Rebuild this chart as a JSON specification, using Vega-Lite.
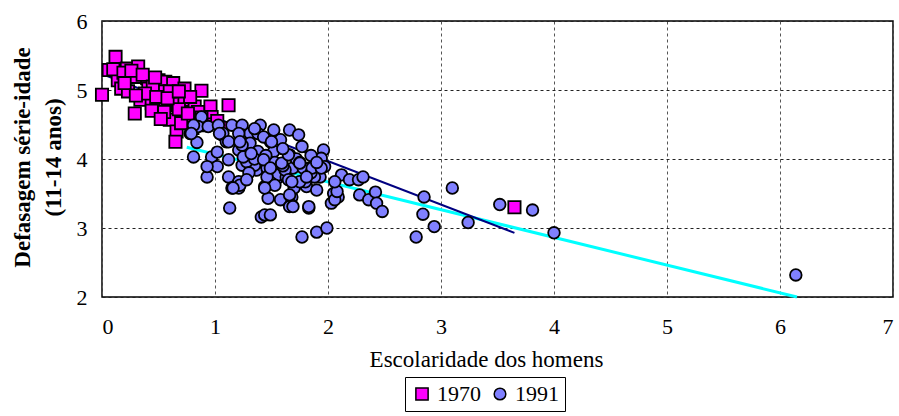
{
  "$schema": "https://vega.github.io/schema/vega-lite/v6.json",
  "width": 791,
  "height": 276,
  "autosize": {"type": "none"},
  "padding": {"left": 102, "top": 21, "right": 6, "bottom": 119},
  "background": "white",
  "config": {
    "font": "Liberation Serif",
    "view": {"stroke": "black", "strokeWidth": 1.5}
  },
  "datasets": {
    "pts": [
      {"ano": "1970", "esc": 0.00, "def": 4.93}, {"ano": "1970", "esc": 0.12, "def": 5.48}, {"ano": "1970", "esc": 0.06, "def": 5.29},
      {"ano": "1970", "esc": 0.14, "def": 5.14}, {"ano": "1970", "esc": 0.17, "def": 5.02}, {"ano": "1970", "esc": 0.22, "def": 5.31},
      {"ano": "1970", "esc": 0.29, "def": 5.19}, {"ano": "1970", "esc": 0.32, "def": 5.34}, {"ano": "1970", "esc": 0.23, "def": 4.98},
      {"ano": "1970", "esc": 0.40, "def": 5.17}, {"ano": "1970", "esc": 0.41, "def": 5.02}, {"ano": "1970", "esc": 0.34, "def": 4.86},
      {"ano": "1970", "esc": 0.44, "def": 4.81}, {"ano": "1970", "esc": 0.29, "def": 4.66}, {"ano": "1970", "esc": 0.50, "def": 5.14},
      {"ano": "1970", "esc": 0.56, "def": 5.12}, {"ano": "1970", "esc": 0.63, "def": 5.10}, {"ano": "1970", "esc": 0.51, "def": 4.98},
      {"ano": "1970", "esc": 0.56, "def": 4.78}, {"ano": "1970", "esc": 0.65, "def": 4.88}, {"ano": "1970", "esc": 0.73, "def": 5.02},
      {"ano": "1970", "esc": 0.88, "def": 4.99}, {"ano": "1970", "esc": 0.73, "def": 4.86}, {"ano": "1970", "esc": 0.82, "def": 4.76},
      {"ano": "1970", "esc": 0.96, "def": 4.76}, {"ano": "1970", "esc": 1.12, "def": 4.78}, {"ano": "1970", "esc": 0.60, "def": 4.57},
      {"ano": "1970", "esc": 0.72, "def": 4.64}, {"ano": "1970", "esc": 0.79, "def": 4.54}, {"ano": "1970", "esc": 0.66, "def": 4.40},
      {"ano": "1970", "esc": 0.65, "def": 4.25}, {"ano": "1970", "esc": 0.90, "def": 4.49}, {"ano": "1970", "esc": 0.97, "def": 4.61},
      {"ano": "1970", "esc": 0.10, "def": 5.30}, {"ano": "1970", "esc": 0.19, "def": 5.25}, {"ano": "1970", "esc": 0.26, "def": 5.28},
      {"ano": "1970", "esc": 0.36, "def": 5.22}, {"ano": "1970", "esc": 0.45, "def": 5.05}, {"ano": "1970", "esc": 0.38, "def": 4.95},
      {"ano": "1970", "esc": 0.48, "def": 4.90}, {"ano": "1970", "esc": 0.60, "def": 4.98}, {"ano": "1970", "esc": 0.68, "def": 4.72},
      {"ano": "1970", "esc": 0.78, "def": 4.90}, {"ano": "1970", "esc": 0.85, "def": 4.68}, {"ano": "1970", "esc": 0.92, "def": 4.50},
      {"ano": "1970", "esc": 1.02, "def": 4.55}, {"ano": "1970", "esc": 0.55, "def": 4.68}, {"ano": "1970", "esc": 0.44, "def": 4.70},
      {"ano": "1970", "esc": 0.20, "def": 5.10}, {"ano": "1970", "esc": 0.80, "def": 4.45}, {"ano": "1970", "esc": 1.05, "def": 4.45},
      {"ano": "1970", "esc": 0.70, "def": 4.52}, {"ano": "1970", "esc": 0.47, "def": 5.18}, {"ano": "1970", "esc": 0.58, "def": 4.88},
      {"ano": "1970", "esc": 0.68, "def": 4.98}, {"ano": "1970", "esc": 0.76, "def": 4.66}, {"ano": "1970", "esc": 0.30, "def": 4.92},
      {"ano": "1970", "esc": 0.88, "def": 4.60}, {"ano": "1970", "esc": 0.52, "def": 4.58}, {"ano": "1970", "esc": 3.65, "def": 3.30},
      {"ano": "1991", "esc": 0.88, "def": 4.61}, {"ano": "1991", "esc": 0.85, "def": 4.47}, {"ano": "1991", "esc": 0.78, "def": 4.37},
      {"ano": "1991", "esc": 0.84, "def": 4.24}, {"ano": "1991", "esc": 0.81, "def": 4.03}, {"ano": "1991", "esc": 0.93, "def": 3.74},
      {"ano": "1991", "esc": 0.94, "def": 4.47}, {"ano": "1991", "esc": 1.03, "def": 4.49}, {"ano": "1991", "esc": 1.06, "def": 4.35},
      {"ano": "1991", "esc": 1.10, "def": 4.25}, {"ano": "1991", "esc": 1.15, "def": 4.49}, {"ano": "1991", "esc": 1.24, "def": 4.49},
      {"ano": "1991", "esc": 1.24, "def": 4.35}, {"ano": "1991", "esc": 1.21, "def": 4.13}, {"ano": "1991", "esc": 1.31, "def": 4.37},
      {"ano": "1991", "esc": 1.40, "def": 4.49}, {"ano": "1991", "esc": 1.38, "def": 4.37}, {"ano": "1991", "esc": 1.31, "def": 4.23},
      {"ano": "1991", "esc": 1.38, "def": 4.11}, {"ano": "1991", "esc": 1.52, "def": 4.42}, {"ano": "1991", "esc": 1.49, "def": 4.25},
      {"ano": "1991", "esc": 1.58, "def": 4.28}, {"ano": "1991", "esc": 0.97, "def": 4.03}, {"ano": "1991", "esc": 1.02, "def": 3.89},
      {"ano": "1991", "esc": 1.12, "def": 3.99}, {"ano": "1991", "esc": 1.24, "def": 3.91}, {"ano": "1991", "esc": 1.12, "def": 3.74},
      {"ano": "1991", "esc": 1.21, "def": 3.67}, {"ano": "1991", "esc": 1.15, "def": 3.58}, {"ano": "1991", "esc": 1.21, "def": 3.58},
      {"ano": "1991", "esc": 1.13, "def": 3.29}, {"ano": "1991", "esc": 1.37, "def": 3.84}, {"ano": "1991", "esc": 1.41, "def": 3.96},
      {"ano": "1991", "esc": 1.46, "def": 3.87}, {"ano": "1991", "esc": 1.44, "def": 3.60}, {"ano": "1991", "esc": 1.47, "def": 3.43},
      {"ano": "1991", "esc": 1.55, "def": 3.84}, {"ano": "1991", "esc": 1.55, "def": 3.72}, {"ano": "1991", "esc": 1.58, "def": 3.41},
      {"ano": "1991", "esc": 1.41, "def": 3.16}, {"ano": "1991", "esc": 1.44, "def": 3.19}, {"ano": "1991", "esc": 1.35, "def": 3.91},
      {"ano": "1991", "esc": 1.28, "def": 3.96}, {"ano": "1991", "esc": 1.24, "def": 4.20}, {"ano": "1991", "esc": 1.07, "def": 4.37},
      {"ano": "1991", "esc": 1.66, "def": 4.42}, {"ano": "1991", "esc": 1.74, "def": 4.35}, {"ano": "1991", "esc": 1.77, "def": 4.18},
      {"ano": "1991", "esc": 1.66, "def": 4.06}, {"ano": "1991", "esc": 1.96, "def": 4.13}, {"ano": "1991", "esc": 1.94, "def": 4.01},
      {"ano": "1991", "esc": 1.69, "def": 3.87}, {"ano": "1991", "esc": 1.84, "def": 3.87}, {"ano": "1991", "esc": 1.97, "def": 3.89},
      {"ano": "1991", "esc": 1.56, "def": 3.77}, {"ano": "1991", "esc": 1.63, "def": 3.74}, {"ano": "1991", "esc": 1.74, "def": 3.65},
      {"ano": "1991", "esc": 1.81, "def": 3.60}, {"ano": "1991", "esc": 1.93, "def": 3.74}, {"ano": "1991", "esc": 1.90, "def": 3.55},
      {"ano": "1991", "esc": 1.62, "def": 3.84}, {"ano": "1991", "esc": 1.65, "def": 3.70}, {"ano": "1991", "esc": 1.68, "def": 3.45},
      {"ano": "1991", "esc": 1.68, "def": 3.33}, {"ano": "1991", "esc": 1.66, "def": 3.31}, {"ano": "1991", "esc": 1.80, "def": 3.67},
      {"ano": "1991", "esc": 1.78, "def": 3.87}, {"ano": "1991", "esc": 1.88, "def": 3.74}, {"ano": "1991", "esc": 1.83, "def": 3.29},
      {"ano": "1991", "esc": 2.03, "def": 3.36}, {"ano": "1991", "esc": 2.09, "def": 3.45}, {"ano": "1991", "esc": 2.05, "def": 3.50},
      {"ano": "1991", "esc": 2.12, "def": 3.77}, {"ano": "1991", "esc": 2.19, "def": 3.70}, {"ano": "1991", "esc": 2.27, "def": 3.70},
      {"ano": "1991", "esc": 2.31, "def": 3.74}, {"ano": "1991", "esc": 2.28, "def": 3.48}, {"ano": "1991", "esc": 2.36, "def": 3.41},
      {"ano": "1991", "esc": 2.42, "def": 3.52}, {"ano": "1991", "esc": 2.43, "def": 3.36}, {"ano": "1991", "esc": 2.48, "def": 3.24},
      {"ano": "1991", "esc": 1.77, "def": 2.87}, {"ano": "1991", "esc": 1.90, "def": 2.94}, {"ano": "1991", "esc": 1.99, "def": 3.00},
      {"ano": "1991", "esc": 2.85, "def": 3.45}, {"ano": "1991", "esc": 2.84, "def": 3.20}, {"ano": "1991", "esc": 2.94, "def": 3.02},
      {"ano": "1991", "esc": 2.78, "def": 2.87}, {"ano": "1991", "esc": 3.10, "def": 3.58}, {"ano": "1991", "esc": 3.24, "def": 3.08},
      {"ano": "1991", "esc": 3.52, "def": 3.34}, {"ano": "1991", "esc": 3.81, "def": 3.26}, {"ano": "1991", "esc": 4.00, "def": 2.93},
      {"ano": "1991", "esc": 6.14, "def": 2.32}, {"ano": "1991", "esc": 1.49, "def": 3.19}, {"ano": "1991", "esc": 1.52, "def": 4.11},
      {"ano": "1991", "esc": 1.72, "def": 4.00}, {"ano": "1991", "esc": 1.53, "def": 3.95}, {"ano": "1991", "esc": 1.60, "def": 3.90},
      {"ano": "1991", "esc": 1.45, "def": 4.05}, {"ano": "1991", "esc": 1.30, "def": 3.80}, {"ano": "1991", "esc": 1.50, "def": 3.65},
      {"ano": "1991", "esc": 1.70, "def": 3.58}, {"ano": "1991", "esc": 1.85, "def": 3.80}, {"ano": "1991", "esc": 1.35, "def": 4.00},
      {"ano": "1991", "esc": 1.75, "def": 3.95}, {"ano": "1991", "esc": 0.81, "def": 4.49}, {"ano": "1991", "esc": 0.79, "def": 4.37},
      {"ano": "1991", "esc": 1.04, "def": 4.37}, {"ano": "1991", "esc": 1.12, "def": 4.25}, {"ano": "1991", "esc": 1.21, "def": 4.37},
      {"ano": "1991", "esc": 1.35, "def": 4.44}, {"ano": "1991", "esc": 1.43, "def": 4.32}, {"ano": "1991", "esc": 1.50, "def": 4.25},
      {"ano": "1991", "esc": 1.22, "def": 4.25}, {"ano": "1991", "esc": 1.25, "def": 4.03}, {"ano": "1991", "esc": 0.93, "def": 3.89},
      {"ano": "1991", "esc": 1.22, "def": 3.62}, {"ano": "1991", "esc": 1.32, "def": 4.08}, {"ano": "1991", "esc": 1.43, "def": 3.99},
      {"ano": "1991", "esc": 1.46, "def": 3.74}, {"ano": "1991", "esc": 1.49, "def": 3.87}, {"ano": "1991", "esc": 1.59, "def": 3.94},
      {"ano": "1991", "esc": 1.65, "def": 4.06}, {"ano": "1991", "esc": 1.75, "def": 3.94}, {"ano": "1991", "esc": 1.86, "def": 3.87},
      {"ano": "1991", "esc": 1.94, "def": 3.87}, {"ano": "1991", "esc": 1.75, "def": 3.67}, {"ano": "1991", "esc": 1.81, "def": 3.74},
      {"ano": "1991", "esc": 1.68, "def": 3.67}, {"ano": "1991", "esc": 1.66, "def": 3.48}, {"ano": "1991", "esc": 1.53, "def": 3.62},
      {"ano": "1991", "esc": 1.44, "def": 3.58}, {"ano": "1991", "esc": 1.69, "def": 3.31}, {"ano": "1991", "esc": 1.83, "def": 3.31},
      {"ano": "1991", "esc": 2.06, "def": 3.41}, {"ano": "1991", "esc": 2.08, "def": 3.53}, {"ano": "1991", "esc": 2.06, "def": 3.67},
      {"ano": "1991", "esc": 1.16, "def": 3.58}, {"ano": "1991", "esc": 1.02, "def": 4.10}, {"ano": "1991", "esc": 1.60, "def": 4.15},
      {"ano": "1991", "esc": 1.85, "def": 4.05}, {"ano": "1991", "esc": 1.28, "def": 3.70}, {"ano": "1991", "esc": 1.90, "def": 3.95}
    ],
    "navy": [{"esc": 0.0, "def": 5.23}, {"esc": 3.65, "def": 2.93}],
    "cyan": [{"esc": 0.75, "def": 4.17}, {"esc": 6.15, "def": 2.0}]
  },
  "layer": [
    {
      "data": {"name": "cyan"},
      "mark": {"type": "line", "color": "#00FFFF", "strokeWidth": 3},
      "encoding": {
        "x": {"field": "esc", "type": "quantitative"},
        "y": {"field": "def", "type": "quantitative"}
      }
    },
    {
      "data": {"name": "navy"},
      "mark": {"type": "line", "color": "#000080", "strokeWidth": 2},
      "encoding": {
        "x": {"field": "esc", "type": "quantitative"},
        "y": {"field": "def", "type": "quantitative"}
      }
    },
    {
      "data": {"name": "pts"},
      "mark": {"type": "point", "filled": true, "stroke": "black", "strokeWidth": 1.8, "opacity": 1},
      "encoding": {
        "x": {
          "field": "esc", "type": "quantitative",
          "scale": {"domain": [0, 7], "nice": false},
          "axis": {
            "title": "Escolaridade dos homens", "values": [0, 1, 2, 3, 4, 5, 6, 7], "format": "d",
            "grid": true, "gridDash": [3, 3], "gridColor": "#555555", "gridWidth": 1,
            "ticks": false, "domain": false,
            "labelFont": "Liberation Serif", "labelFontSize": 22, "labelColor": "black", "labelPadding": 19,
            "titleFont": "Liberation Serif", "titleFontSize": 23, "titleFontWeight": "normal", "titleColor": "black", "titlePadding": 11,
            "titleX": 384, "titleAlign": "center"
          }
        },
        "y": {
          "field": "def", "type": "quantitative",
          "scale": {"domain": [2, 6], "nice": false, "zero": false},
          "axis": {
            "title": ["Defasagem série-idade", "(11-14 anos)"], "values": [2, 3, 4, 5, 6], "format": "d",
            "grid": true, "gridDash": [3, 3], "gridColor": "#222222", "gridWidth": 1,
            "ticks": false, "domain": false,
            "labelFont": "Liberation Serif", "labelFontSize": 22, "labelColor": "black", "labelPadding": 15,
            "titleFont": "Liberation Serif", "titleFontSize": 23, "titleFontWeight": "bold", "titleColor": "black", "titlePadding": 11, "titleLineHeight": 31,
            "titleY": 136
          }
        },
        "shape": {
          "field": "ano", "type": "nominal",
          "scale": {"domain": ["1970", "1991"], "range": ["square", "circle"]},
          "legend": null
        },
        "size": {
          "field": "ano", "type": "nominal",
          "scale": {"domain": ["1970", "1991"], "range": [150, 135]},
          "legend": null
        },
        "color": {
          "field": "ano", "type": "nominal",
          "scale": {"domain": ["1970", "1991"], "range": ["#FF00FF", "#8080FF"]},
          "legend": {
            "title": null, "orient": "none", "direction": "horizontal",
            "legendX": 303, "legendY": 356,
            "symbolType": "square",
            "labelFont": "Liberation Serif", "labelFontSize": 22, "labelColor": "black",
            "strokeColor": "black", "padding": 6, "columnPadding": 8, "symbolSize": 100,
            "symbolStrokeColor": "black", "symbolStrokeWidth": 1.5, "labelOffset": 4
          }
        }
      }
    }
  ]
}
